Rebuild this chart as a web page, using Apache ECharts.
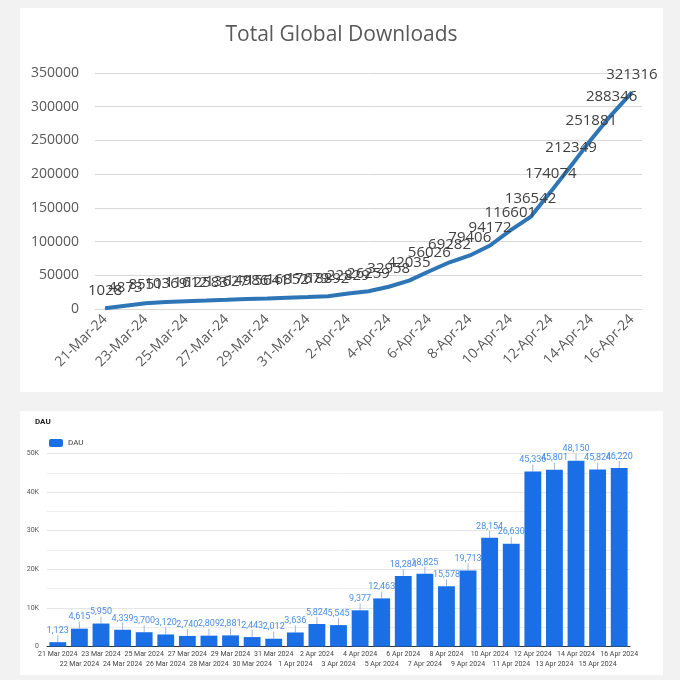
<!DOCTYPE html>
<html><head><meta charset="utf-8">
<script src="https://cdn.jsdelivr.net/npm/echarts@6/dist/echarts.min.js"></script>
<style>
html,body{margin:0;padding:0;background:#f2f2f2;width:680px;height:680px;overflow:hidden;}
#c1{position:absolute;left:20px;top:8px;width:643px;height:384px;background:#fff;}
#c2{position:absolute;left:20px;top:411px;width:643px;height:264px;background:#fff;}
</style></head>
<body>
<div id="c1"></div><div id="c2"></div>
<script>
const downloadDates = ['21-Mar-24','22-Mar-24','23-Mar-24','24-Mar-24','25-Mar-24','26-Mar-24','27-Mar-24','28-Mar-24','29-Mar-24','30-Mar-24','31-Mar-24','1-Apr-24','2-Apr-24','3-Apr-24','4-Apr-24','5-Apr-24','6-Apr-24','7-Apr-24','8-Apr-24','9-Apr-24','10-Apr-24','11-Apr-24','12-Apr-24','13-Apr-24','14-Apr-24','15-Apr-24','16-Apr-24'];
const totalDownloads = [1028,4873,8551,10369,11612,12583,13627,14986,15641,16852,17679,18892,22829,26259,32958,42035,56026,69282,79406,94172,116601,136542,174074,212349,251881,288346,321316];
const dauDates = ['21 Mar 2024','22 Mar 2024','23 Mar 2024','24 Mar 2024','25 Mar 2024','26 Mar 2024','27 Mar 2024','28 Mar 2024','29 Mar 2024','30 Mar 2024','31 Mar 2024','1 Apr 2024','2 Apr 2024','3 Apr 2024','4 Apr 2024','5 Apr 2024','6 Apr 2024','7 Apr 2024','8 Apr 2024','9 Apr 2024','10 Apr 2024','11 Apr 2024','12 Apr 2024','13 Apr 2024','14 Apr 2024','15 Apr 2024','16 Apr 2024'];
const dauValues = [1123,4615,5950,4339,3700,3120,2740,2809,2881,2443,2012,3636,5824,5545,9377,12463,18284,18825,15578,19713,28154,26630,45336,45801,48150,45824,46220];

const ff = 'Open Sans, Liberation Sans, sans-serif';
const c1 = echarts.init(document.getElementById('c1'));
c1.setOption({
  animation:false,
  title:{text:'Total Global Downloads',left:'center',top:12,textStyle:{fontFamily:ff,fontSize:21,fontWeight:'normal',color:'#595959'}},
  grid:{left:75,right:21,top:65,bottom:83},
  xAxis:{type:'category',data:downloadDates,boundaryGap:true,
    axisLine:{lineStyle:{color:'#d9d9d9'}},axisTick:{show:false},
    axisLabel:{interval:1,rotate:45,color:'#595959',fontSize:14,fontFamily:ff,margin:8}},
  yAxis:{type:'value',min:0,max:350000,interval:50000,
    axisLine:{show:false},axisTick:{show:false},
    axisLabel:{color:'#595959',fontSize:14,fontFamily:ff,margin:16,formatter:v=>String(v)},
    splitLine:{lineStyle:{color:'#d9d9d9'}}},
  series:[{type:'line',data:totalDownloads,symbol:'circle',symbolSize:1,showSymbol:true,smooth:false,
    itemStyle:{color:'#2e75b6'},
    lineStyle:{color:'#2e75b6',width:4},
    labelLayout:{hideOverlap:false},
    label:{show:true,position:'top',distance:10,color:'#404040',fontSize:15,fontFamily:ff}}]
});

const c2 = echarts.init(document.getElementById('c2'));
c2.setOption({
  animation:false,
  title:{text:'DAU',left:10,top:2,textStyle:{fontFamily:'Roboto, sans-serif',fontSize:8,fontWeight:'bold',color:'#222'}},
  legend:{left:24,top:23,itemWidth:14,itemHeight:8,itemGap:6,textStyle:{fontFamily:'Roboto, sans-serif',fontSize:8,color:'#444'},data:['DAU']},
  grid:{left:27,right:33,top:42.5,bottom:28.5},
  xAxis:{type:'category',data:dauDates,
    axisLine:{lineStyle:{color:'#333'}},axisTick:{show:false},
    axisLabel:{interval:0,fontSize:7,color:'#444',fontFamily:'Roboto, sans-serif',margin:3,lineHeight:10,
      formatter:(v,i)=> i%2===1 ? '\n'+v : v}},
  yAxis:{type:'value',min:0,max:50000,interval:10000,
    axisLine:{show:false},axisTick:{show:false},
    axisLabel:{fontSize:7,color:'#555',fontFamily:'Roboto, sans-serif',margin:8,formatter:v=> v===0?'0':(v/1000)+'K'},
    splitLine:{lineStyle:{color:'#e6e6e6'}},
    minorTick:{show:false,splitNumber:2},
    minorSplitLine:{show:true,lineStyle:{color:'#eeeeee'}}},
  series:[{name:'DAU',type:'bar',data:dauValues,barCategoryGap:'22%',
    itemStyle:{color:'#1a6fe6'},
    label:{show:true,position:'top',distance:1,color:'#4a8fe3',fontSize:9,fontFamily:'Roboto, sans-serif',
      formatter:p=>p.value.toLocaleString('en-US')},
    labelLayout:{dy:-6},
    labelLine:{show:true,length2:0,lineStyle:{color:'#9fb8d8',width:1}}}]
});
</script>
</body></html>
